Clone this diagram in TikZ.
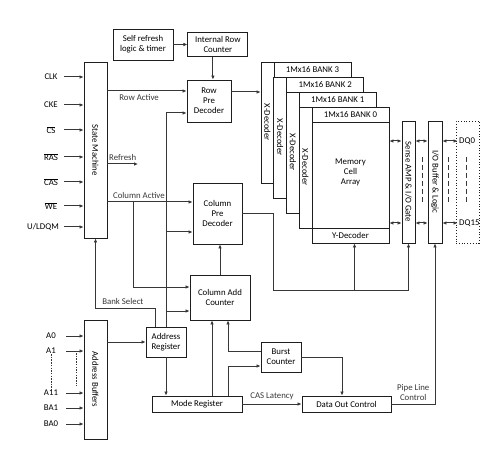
\documentclass[tikz,border=0pt]{standalone}
\usepackage{fontspec}
\setmainfont{Carlito}
\usepackage{graphicx}
\usetikzlibrary{arrows.meta,positioning,calc}
\definecolor{Trazo}{RGB}{30,30,30}
\definecolor{TrazoSuave}{RGB}{55,55,55}
\newcommand{\ovl}[1]{$\overline{\mbox{#1}}$}
\tikzset{
  blockbox/.style={draw=Trazo, line width=0.9pt, fill=white, align=center,
    inner sep=0pt, minimum width=#1},
  blockbox/.default=60pt,
  vertbox/.style={draw=Trazo, line width=0.9pt, fill=white, inner sep=0pt, minimum width=#1},
  vertbox/.default=23pt,
  flowarr/.style={-{Latex[length=4pt, width=3.6pt]}, line width=1pt, TrazoSuave},
  dualarr/.style={{Latex[length=4pt, width=3.6pt]}-{Latex[length=4pt, width=3.6pt]},
    line width=1pt, TrazoSuave},
  pinlabel/.style={inner sep=0pt},
  finedash/.style={TrazoSuave, line width=0.6pt, dash pattern=on 1.5pt off 1.2pt},
  busdash/.style={TrazoSuave, line width=1pt, dash pattern=on 5pt off 3pt},
}

\begin{document}
\begin{tikzpicture}[x=1pt, y=-1pt, font=\fontsize{8.8}{10}\selectfont]
  \useasboundingbox (0,0) rectangle (498,457);

  % ---- bloques de control ----
  \node[vertbox, minimum height=176pt] (sm) at (95.5,150) {\rotatebox{-90}{State Machine}};
  \node[vertbox, minimum height=119pt] (ab) at (95.5,379.5) {\rotatebox{-90}{Address Buffers}};
  \node[blockbox, minimum height=31pt] (srl) at (143,44.5) {Self refresh\\logic \& timer};
  \node[blockbox, minimum height=24pt, right=14pt of srl] (irc) {Internal Row\\Counter};
  \node[blockbox=44pt, minimum height=42pt] (rpd) at (209,101) {Row\\Pre\\Decoder};
  \node[blockbox=49pt, minimum height=61pt] (cpd) at (217.5,213.5) {Column\\Pre\\Decoder};
  \node[blockbox, minimum height=45pt] (cac) at (220,297.5) {Column Add\\Counter};
  \node[blockbox=40pt, minimum height=30pt] (ar) at (166,342) {Address\\Register};
  \node[blockbox=90pt, minimum height=16pt] (mr) at (197,404) {Mode Register};
  \node[blockbox=40pt, minimum height=30pt] (bc) at (281,357) {Burst\\Counter};
  \node[blockbox=89pt, minimum height=16pt] (doc) at (346.5,404) {Data Out Control};

  % ---- bancos de memoria (de atras hacia delante) ----
  \foreach \i in {3,2,1,0}{
    \pgfmathsetmacro{\bx}{299-12.67*\i}
    \pgfmathsetmacro{\by}{107-15*\i}
    \node[vertbox=13pt, minimum height=121pt] (xdec\i) at (\bx+6.5,\by+60.5) {\rotatebox{-90}{X-Decoder}};
    \node[blockbox=77pt, minimum height=15pt] (hdr\i) at (\bx+51.5,\by+7.5) {1Mx16 BANK \i};
    \node[blockbox=77pt, minimum height=106pt] (arr\i) at (\bx+51.5,\by+68) {};
  }
  \node[align=center] (mca) at ([yshift=3pt]arr0.center) {Memory\\Cell\\Array};
  \node[blockbox=77pt, minimum height=15pt] (ydec) at (350.5,235.5) {Y-Decoder};

  \node[vertbox=13pt, minimum height=122pt] (sa) at (408.5,182) {\rotatebox{-90}{Sense AMP \& I/O Gate}};
  \node[vertbox=14pt, minimum height=122pt] (iob) at (435,182) {\rotatebox{-90}{I/O Buffer \& Logic}};
  \node[draw=Trazo, dotted, line width=0.8pt, minimum width=23pt, minimum height=122pt,
    inner sep=0pt] (dqbox) at (467.5,182) {};
  \node[anchor=west, inner sep=0pt] (dq0) at (459,141) {DQ0};
  \node[anchor=west, inner sep=0pt] (dq15) at (459,223) {DQ15};

  % ---- entradas ----
  \foreach \y/\n/\t in {77/clk/CLK, 105/cke/CKE, 130/cs/\ovl{CS}, 157/ras/\ovl{RAS},
      182/cas/\ovl{CAS}, 206/we/\ovl{WE}}{
    \node[pinlabel] (\n) at (51,\y) {\t};
    \draw[flowarr] ([xshift=13pt]\n.center) -- (\n.center -| sm.west);
  }
  \node[pinlabel, anchor=east] (ldqm) at (59,227) {U/LDQM};
  \draw[flowarr] ([xshift=5pt]ldqm.east) -- (ldqm.east -| sm.west);

  \foreach \y/\n/\t in {336/a0/A0, 351/a1/A1, 393/a11/A11, 408/ba1/BA1, 424/ba0/BA0}{
    \node[pinlabel] (\n) at (51,\y) {\t};
    \draw[flowarr] ([xshift=15pt]\n.center) -- (\n.center -| ab.west);
  }
  \draw[finedash] (a1.south) -- (a1.south |- a11.north);
  \draw[finedash] ([xshift=25pt,yshift=-2pt]a1.center) -- ([xshift=25pt,yshift=7pt]a11.center);

  % ---- maquina de estados ----
  \draw[flowarr] (sm.east |- 0,91) -- node[below, pos=0.4] {Row Active} (rpd.west |- 0,91);
  \coordinate (refend) at (138,164);
  \draw[flowarr] (sm.east |- refend) -- node[above] {Refresh} (refend);
  \coordinate (colbr) at (133,202);
  \draw[flowarr] (sm.east |- colbr) -- node[above, pos=0.37] {Column Active} (cpd.west |- colbr);
  \draw[flowarr] (colbr) |- (cac.west |- 0,287);

  % ---- bus de direcciones ----
  \draw[flowarr] (ab.east |- ar.west) -- (ar.west);
  \draw[flowarr] (ar.north) |- (rpd.west |- 0,113);
  \draw[flowarr] (ar.north |- 0,232) -- (cpd.west |- 0,232);
  \draw[flowarr] (ar.north |- 0,311) -- (cac.west |- 0,311);
  \draw[flowarr] (ar.south) -- (ar.south |- mr.north);
  \draw[flowarr] ([xshift=-11pt]ar.north) |- node[above, pos=0.77] {Bank Select}
    (sm.south |- 0,308) -- (sm.south);

  % ---- refresco y decodificacion de filas ----
  \draw[flowarr] (srl.east) -- (irc.west);
  \draw[flowarr] ([xshift=-5pt]irc.south) -- ([xshift=-5pt]irc.south |- rpd.north);
  \draw[flowarr] (rpd.east |- 0,92) -- (xdec3.west |- 0,92);

  % ---- contadores y registros ----
  \draw[flowarr] (cac.north) -- (cac.north |- cpd.south);
  \draw[flowarr] ([xshift=-8pt]cac.south |- mr.north) -- ([xshift=-8pt]cac.south);
  \draw[flowarr] ([yshift=6pt]bc.west) -| ([xshift=8pt]cac.south);
  \draw[flowarr] ([xshift=8pt]cac.south |- mr.north) |- ([yshift=-9pt]bc.west);
  \draw[flowarr] (bc.east) -| ([xshift=-4.5pt]doc.north);
  \draw[flowarr] (mr.east) -- node[above] {CAS Latency} (doc.west);
  \draw[flowarr] (doc.east) -| node[above, pos=0.25, align=center] {Pipe Line\\Control} (iob.south);

  % ---- decodificacion de columnas ----
  \coordinate (ybus) at (273,290);
  \draw[flowarr] (cpd.east) -| (ybus) -| (sa.south);
  \draw[flowarr] ([xshift=4pt]ydec.south |- ybus) -- ([xshift=4pt]ydec.south);

  % ---- datos ----
  \foreach \q in {dq0,dq15}{
    \draw[dualarr] (arr0.east |- \q.west) -- (sa.west |- \q.west);
    \draw[dualarr] (sa.east |- \q.west) -- (iob.west |- \q.west);
    \draw[dualarr] (iob.east |- \q.west) -- ([xshift=-1.5pt]\q.west);
  }
  \draw[busdash] ($(sa.east |- 0,157)+(7,0)$) -- ($(sa.east |- 0,203)+(7,0)$);
  \draw[busdash] ($(iob.east |- 0,157)+(6,0)$) -- ($(iob.east |- 0,203)+(6,0)$);
  \draw[busdash] ($(dqbox.center |- 0,157)+(-1.5,0)$) -- ($(dqbox.center |- 0,203)+(-1.5,0)$);
\end{tikzpicture}
\end{document}
